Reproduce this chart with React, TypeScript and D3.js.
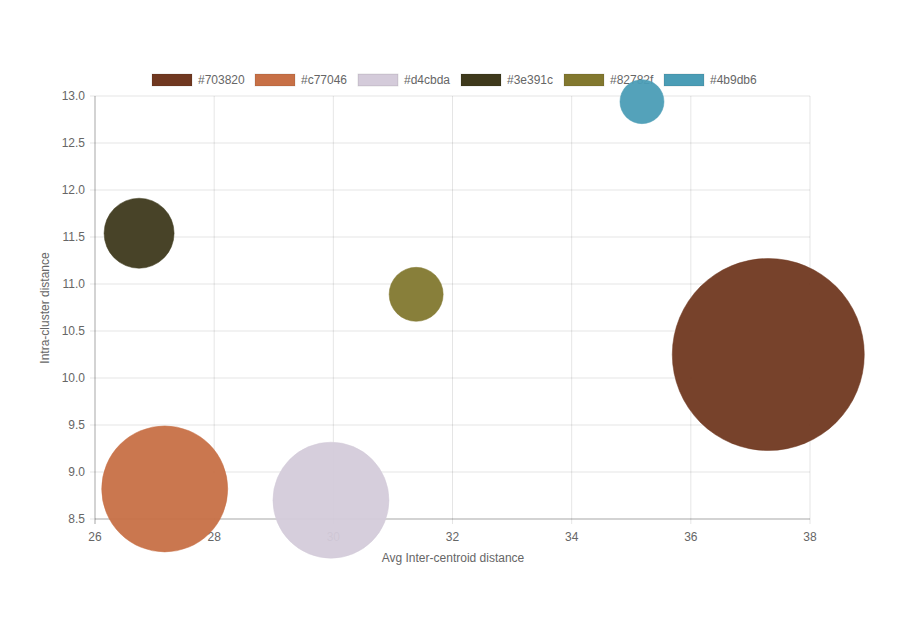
import React from "react";
import * as d3 from "d3";

const labels = ["#703820", "#c77046", "#d4cbda", "#3e391c", "#82782f", "#4b9db6"];
const xVals = [37.3, 27.17, 29.96, 26.74, 31.39, 35.18];
const yVals = [10.25, 8.82, 8.7, 11.54, 10.89, 12.94];
const rVals = [96, 63, 58, 35, 27, 22];
const xTicks = [26, 28, 30, 32, 34, 36, 38];
const yTicks = [8.5, 9, 9.5, 10, 10.5, 11, 11.5, 12, 12.5, 13];

export default function App() {
  const W = 908, H = 636;
  const x = d3.scaleLinear().domain([26, 38]).range([95, 810]);
  const y = d3.scaleLinear().domain([8.5, 13]).range([519, 96]);
  const font = "Helvetica Neue, Helvetica, Arial, sans-serif";
  const itemW = 103;
  const legendStart = 152;
  return (
    <svg width={W} height={H} style={{ position: "absolute", left: 0, top: 0 }} fontFamily={font}>
      <rect width={W} height={H} fill="#fff" />
      {xTicks.map((t) => (
        <g key={"x" + t}>
          <line x1={x(t)} x2={x(t)} y1={96} y2={524} stroke="rgba(0,0,0,0.1)" />
          <text x={x(t)} y={541} textAnchor="middle" fontSize={12} fill="#666">{t}</text>
        </g>
      ))}
      {yTicks.map((t) => (
        <g key={"y" + t}>
          <line x1={90} x2={810} y1={y(t)} y2={y(t)} stroke="rgba(0,0,0,0.1)" />
          <text x={85} y={y(t) + 4} textAnchor="end" fontSize={12} fill="#666">{t.toFixed(1)}</text>
        </g>
      ))}
      <line x1={95} x2={810} y1={519} y2={519} stroke="rgba(0,0,0,0.25)" />
      <line x1={95} x2={95} y1={96} y2={524} stroke="rgba(0,0,0,0.25)" />
      <text x={453} y={562} textAnchor="middle" fontSize={12} fill="#666">Avg Inter-centroid distance</text>
      <text transform="translate(49,308) rotate(-90)" textAnchor="middle" fontSize={12} fill="#666">Intra-cluster distance</text>
      {labels.map((l, i) => (
        <g key={"l" + i} transform={`translate(${legendStart + i * itemW - (i === 5 ? 3 : 0)},74)`}>
          <rect width={40} height={12} fill={l} stroke="rgba(0,0,0,0.1)" />
          <text x={46} y={10} fontSize={12} fill="#666">{l}</text>
        </g>
      ))}
      {labels.map((l, i) => (
        <circle key={"c" + i} cx={x(xVals[i])} cy={y(yVals[i])} r={rVals[i]} fill={l} fillOpacity={0.95} stroke={l} strokeOpacity={0.5} />
      ))}
    </svg>
  );
}
